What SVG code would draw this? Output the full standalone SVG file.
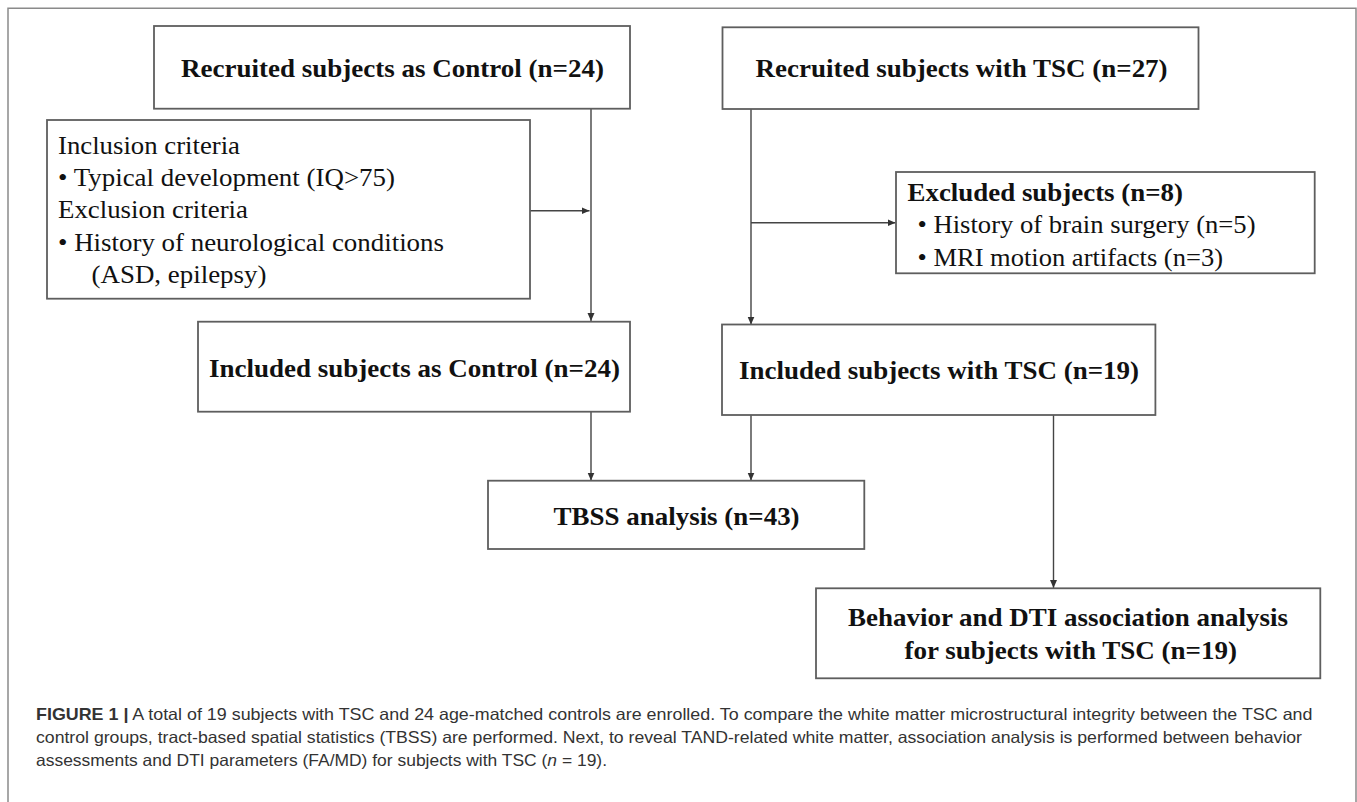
<svg xmlns="http://www.w3.org/2000/svg" width="1357" height="802" viewBox="0 0 1357 802">
<defs>
<style>
.box{fill:#fff;stroke:#5e5e5e;stroke-width:1.8}
.t{font-family:"Liberation Serif","Times New Roman",serif;font-size:26px;fill:#111}
.b{font-weight:bold}
.c{stroke:#444;stroke-width:1.4;fill:none;marker-end:url(#ah)}
.cap{font-family:"Liberation Sans",Arial,sans-serif;font-size:16.5px;fill:#333}
</style>
<marker id="ah" markerUnits="userSpaceOnUse" markerWidth="9" markerHeight="8" refX="8" refY="3.5" orient="auto">
<path d="M0,0 L8,3.5 L0,7 z" fill="#333"/>
</marker>
</defs>
<rect width="1357" height="802" fill="#fff"/>
<path d="M8,802 V8.3 H1356 V802" fill="none" stroke="#8a8a8a" stroke-width="1.5"/>

<g id="connectors">
<path class="c" d="M591,109 V321"/>
<path class="c" d="M530,210.7 H589.5"/>
<path class="c" d="M751,109 V324.5"/>
<path class="c" d="M751,222.7 H895.5"/>
<path class="c" d="M591,411.7 V480.5"/>
<path class="c" d="M751,415 V480.5"/>
<path class="c" d="M1053.5,415 V588"/>
</g>

<g id="recruited-control">
<rect class="box" x="154" y="26" width="476" height="82.7"/>
<text class="t b" x="181" y="77" textLength="423" lengthAdjust="spacingAndGlyphs">Recruited subjects as Control (n=24)</text>
</g>

<g id="recruited-tsc">
<rect class="box" x="722.5" y="27.3" width="476" height="81.7"/>
<text class="t b" x="755.6" y="77" textLength="412" lengthAdjust="spacingAndGlyphs">Recruited subjects with TSC (n=27)</text>
</g>

<g id="criteria">
<rect class="box" x="47" y="120" width="483" height="178.7"/>
<text class="t" x="58" y="154" textLength="182" lengthAdjust="spacingAndGlyphs">Inclusion criteria</text>
<text class="t" x="58" y="186" textLength="337" lengthAdjust="spacingAndGlyphs">• Typical development (IQ&gt;75)</text>
<text class="t" x="58" y="218.3" textLength="190" lengthAdjust="spacingAndGlyphs">Exclusion criteria</text>
<text class="t" x="58" y="250.7" textLength="386" lengthAdjust="spacingAndGlyphs">• History of neurological conditions</text>
<text class="t" x="91.5" y="283.3" textLength="175" lengthAdjust="spacingAndGlyphs">(ASD, epilepsy)</text>
</g>

<g id="excluded">
<rect class="box" x="896" y="172" width="418.7" height="101.3"/>
<text class="t b" x="907.5" y="201" textLength="275.5" lengthAdjust="spacingAndGlyphs">Excluded subjects (n=8)</text>
<text class="t" x="917.5" y="233.3" textLength="338" lengthAdjust="spacingAndGlyphs">• History of brain surgery (n=5)</text>
<text class="t" x="917.5" y="265.7" textLength="305.5" lengthAdjust="spacingAndGlyphs">• MRI motion artifacts (n=3)</text>
</g>

<g id="included-control">
<rect class="box" x="198" y="321.7" width="432" height="90"/>
<text class="t b" x="209" y="376.7" textLength="411" lengthAdjust="spacingAndGlyphs">Included subjects as Control (n=24)</text>
</g>

<g id="included-tsc">
<rect class="box" x="722" y="324.5" width="433.4" height="90.5"/>
<text class="t b" x="739" y="379" textLength="400" lengthAdjust="spacingAndGlyphs">Included subjects with TSC (n=19)</text>
</g>

<g id="tbss">
<rect class="box" x="488" y="480.7" width="376.3" height="68.3"/>
<text class="t b" x="553.6" y="525" textLength="246" lengthAdjust="spacingAndGlyphs">TBSS analysis (n=43)</text>
</g>

<g id="behavior">
<rect class="box" x="816" y="588.3" width="504.3" height="90"/>
<text class="t b" x="848" y="626" textLength="440" lengthAdjust="spacingAndGlyphs">Behavior and DTI association analysis</text>
<text class="t b" x="904.5" y="659" textLength="332.5" lengthAdjust="spacingAndGlyphs">for subjects with TSC (n=19)</text>
</g>

<g id="caption">
<text class="cap" x="36" y="720" textLength="1276.5" lengthAdjust="spacingAndGlyphs"><tspan font-weight="bold">FIGURE 1 |</tspan> A total of 19 subjects with TSC and 24 age-matched controls are enrolled. To compare the white matter microstructural integrity between the TSC and</text>
<text class="cap" x="36" y="743" textLength="1266" lengthAdjust="spacingAndGlyphs">control groups, tract-based spatial statistics (TBSS) are performed. Next, to reveal TAND-related white matter, association analysis is performed between behavior</text>
<text class="cap" x="36" y="766" textLength="571" lengthAdjust="spacingAndGlyphs">assessments and DTI parameters (FA/MD) for subjects with TSC (<tspan font-style="italic">n</tspan> = 19).</text>
</g>
</svg>
